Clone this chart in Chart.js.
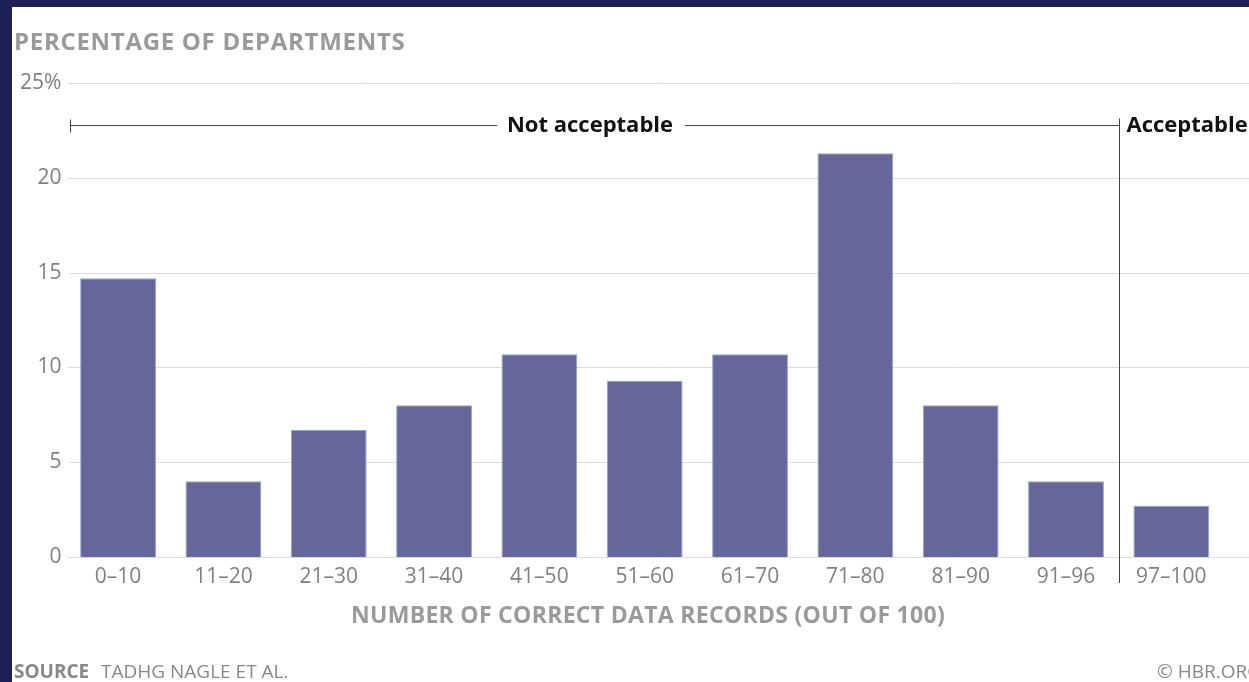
<!DOCTYPE html>
<html>
<head>
<meta charset="utf-8">
<script src="https://cdn.jsdelivr.net/npm/chart.js@4"></script>
<style>
  html, body { margin: 0; padding: 0; background: #1f1f55; overflow: hidden; }
  #frame { position: absolute; left: 12px; top: 7px; width: 1237px; height: 675px; background: #fff; }
  canvas { display: block; }
</style>
</head>
<body>
<div id="frame"><canvas id="chart" width="1237" height="675"></canvas></div>
<script>
// data
const categories = ["0–10", "11–20", "21–30", "31–40", "41–50", "51–60", "61–70", "71–80", "81–90", "91–96", "97–100"];
const percentValues = [14.7, 4.0, 6.7, 8.0, 10.7, 9.3, 10.7, 21.3, 8.0, 4.0, 2.7];
const yTicks = [0, 5, 10, 15, 20, 25];

const FONT = "'Open Sans', sans-serif";

// grid lines run past the chart area on both sides
const gridPlugin = {
  id: "fullGrid",
  beforeDatasetsDraw(chart) {
    const ctx = chart.ctx;
    const y = chart.scales.y;
    ctx.save();
    ctx.strokeStyle = "#dcdcdc";
    ctx.lineWidth = 1;
    yTicks.forEach((t) => {
      const py = Math.round(y.getPixelForValue(t)) + 0.5;
      ctx.beginPath();
      ctx.moveTo(56, py);
      ctx.lineTo(chart.width, py);
      ctx.stroke();
    });
    ctx.restore();
  },
};

// titles, bracket and source line
const textPlugin = {
  id: "extras",
  afterDraw(chart) {
    const ctx = chart.ctx;
    const x = chart.scales.x;
    const y = chart.scales.y;
    ctx.save();

    ctx.fillStyle = "#9a9a9a";
    ctx.textBaseline = "middle";
    ctx.textAlign = "left";
    ctx.font = "bold 24px " + FONT;
    ctx.letterSpacing = "0.7px";
    ctx.fillText("PERCENTAGE OF DEPARTMENTS", 2, 36);

    ctx.textAlign = "center";
    ctx.font = "bold 23px " + FONT;
    ctx.letterSpacing = "0.3px";
    ctx.fillText("NUMBER OF CORRECT DATA RECORDS (OUT OF 100)", 636, 609);
    ctx.letterSpacing = "0px";

    // acceptable / not acceptable split
    const sepX = Math.round((x.getPixelForValue(9) + x.getPixelForValue(10)) / 2) + 0.5;
    const lineY = Math.round(y.getPixelForValue(22.8)) + 0.5;
    ctx.strokeStyle = "#444";
    ctx.lineWidth = 1;
    ctx.beginPath();
    ctx.moveTo(58.5, lineY - 6);
    ctx.lineTo(58.5, lineY + 7);
    ctx.moveTo(58.5, lineY);
    ctx.lineTo(485, lineY);
    ctx.moveTo(673, lineY);
    ctx.lineTo(sepX, lineY);
    ctx.moveTo(sepX, lineY - 7);
    ctx.lineTo(sepX, 576);
    ctx.stroke();

    ctx.fillStyle = "#111";
    ctx.font = "bold 22px " + FONT;
    ctx.textAlign = "center";
    ctx.fillText("Not acceptable", 578, lineY);
    ctx.textAlign = "left";
    ctx.fillText("Acceptable", sepX + 7, lineY);

    // source
    ctx.fillStyle = "#888";
    ctx.font = "bold 19px " + FONT;
    ctx.fillText("SOURCE", 2, 666);
    ctx.font = "19px " + FONT;
    ctx.fillText("TADHG NAGLE ET AL.", 89, 666);
    ctx.fillText("© HBR.ORG", 1145, 666);
    ctx.restore();
  },
};

new Chart(document.getElementById("chart"), {
  type: "bar",
  data: {
    labels: categories,
    datasets: [
      {
        data: percentValues,
        backgroundColor: "#67669a",
        borderColor: "#8ea3d4",
        borderWidth: 1,
        barPercentage: 0.72,
        categoryPercentage: 1,
      },
    ],
  },
  options: {
    responsive: false,
    animation: false,
    layout: { padding: { top: 76, right: 25, left: 0, bottom: 0 } },
    plugins: { legend: { display: false }, tooltip: { enabled: false } },
    scales: {
      x: {
        grid: { display: false, drawTicks: false },
        border: { display: false },
        ticks: { color: "#808080", font: { family: FONT, size: 21 }, padding: 7, maxRotation: 0 },
        afterFit(scale) { scale.height = 125; },
      },
      y: {
        min: 0,
        max: 25,
        grid: { display: false, drawTicks: false },
        border: { display: false },
        ticks: {
          stepSize: 5,
          color: "#808080",
          font: { family: FONT, size: 21 },
          padding: 4,
          callback: (v) => (v === 25 ? "25%" : v),
        },
        afterFit(scale) { scale.width = 53.4; },
      },
    },
  },
  plugins: [gridPlugin, textPlugin],
});
</script>
</body>
</html>
